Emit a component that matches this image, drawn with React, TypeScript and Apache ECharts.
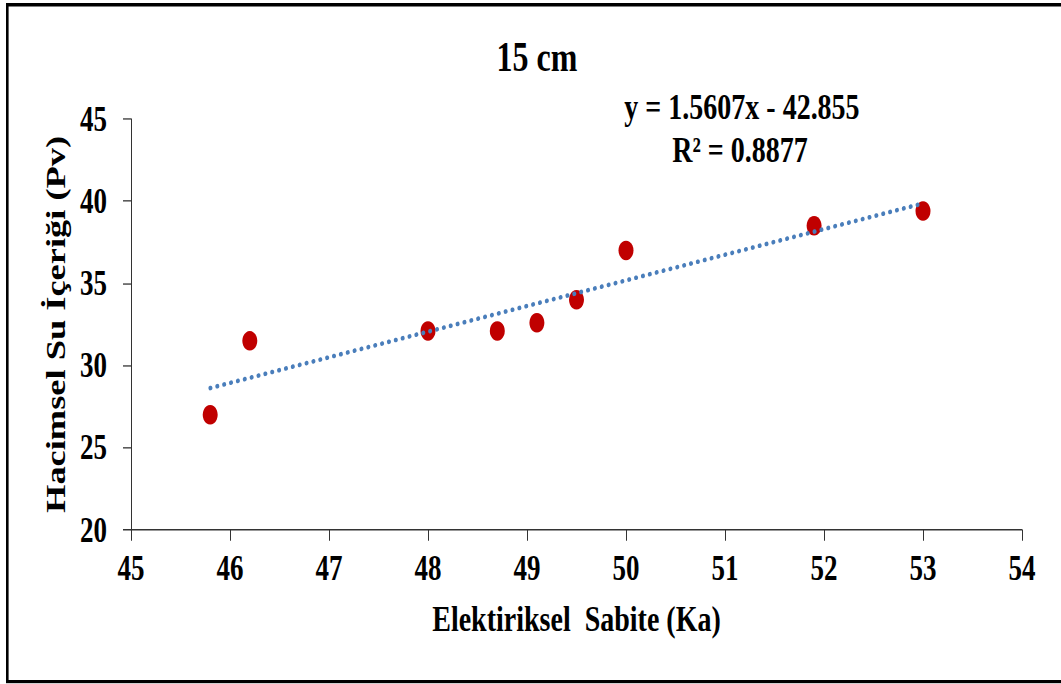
import React, { useEffect, useRef } from "react";
import * as echarts from "echarts";

// Data
const xValues = [45.8, 46.2, 48.0, 48.7, 49.1, 49.5, 50.0, 51.9, 53.0];
const yValues = [27.0, 31.5, 32.1, 32.1, 32.6, 34.0, 37.0, 38.5, 39.4];
const trendSlope = 1.5607;
const trendIntercept = -42.855;
const trendRange = [45.8, 53.0];
const xTicks = { min: 45, max: 54, interval: 1 };
const yTicks = { min: 20, max: 45, interval: 5 };
const titleText = "15 cm";
const equationText = "y = 1.5607x - 42.855";
const r2Text = "R² = 0.8877";
const xName = "Elektiriksel  Sabite (Ka)";
const yName = "Hacimsel Su İçeriği (Pv)";

const W = 1061;
const H = 684;
const S = 1.3; // vertical stretch of the reference picture
const NH = H / S;
const FONT = "'Liberation Serif', 'Times New Roman', serif";

export default function App() {
  const ref = useRef<HTMLDivElement>(null);
  useEffect(() => {
    if (!ref.current) return;
    document.body.style.background = "#ffffff";
    const chart = echarts.init(ref.current, null, { renderer: "svg" });
    const points = xValues.map((x, i) => [x, yValues[i]]);
    const trend = trendRange.map((x) => [x, trendSlope * x + trendIntercept]);
    chart.setOption({
      animation: false,
      backgroundColor: "#ffffff",
      grid: { left: 131, right: W - 1022, top: 119 / S, bottom: NH - 530 / S },
      xAxis: {
        type: "value",
        min: xTicks.min,
        max: xTicks.max,
        interval: xTicks.interval,
        name: xName,
        nameLocation: "middle",
        nameGap: 54,
        nameTextStyle: { fontFamily: FONT, fontWeight: "bold", fontSize: 28, color: "#000" },
        axisLine: { show: true, onZero: false, lineStyle: { color: "#333", width: 1 } },
        axisTick: { show: true, length: 8.5, lineStyle: { color: "#333", width: 1 } },
        axisLabel: { fontFamily: FONT, fontWeight: "bold", fontSize: 27, color: "#000", margin: 16 },
        splitLine: { show: false },
      },
      yAxis: {
        type: "value",
        min: yTicks.min,
        max: yTicks.max,
        interval: yTicks.interval,
        name: yName,
        nameLocation: "middle",
        nameGap: 58,
        nameTextStyle: { fontFamily: FONT, fontWeight: "bold", fontSize: 28, color: "#000" },
        axisLine: { show: true, onZero: false, lineStyle: { color: "#333", width: 1 } },
        axisTick: { show: true, length: 8, lineStyle: { color: "#333", width: 1 } },
        axisLabel: { fontFamily: FONT, fontWeight: "bold", fontSize: 27, color: "#000", margin: 24 },
        splitLine: { show: false },
      },
      series: [
        {
          type: "scatter",
          data: points,
          symbol: "circle",
          symbolSize: 15,
          itemStyle: { color: "#C00000", opacity: 1 },
          z: 2,
        },
        {
          type: "line",
          data: trend,
          symbol: "none",
          lineStyle: { color: "#4a7ebb", width: 3.5, type: [0.5, 6.5], cap: "round" },
          z: 3,
        },
      ],
      graphic: [
        {
          type: "rect",
          shape: { x: 7.3, y: 3.7, width: 1060, height: 520.6 },
          style: { fill: "none", stroke: "#000", lineWidth: 2.6 },
          silent: true,
        },
        {
          type: "text",
          x: 537,
          y: 57 / S,
          style: {
            text: titleText,
            fontFamily: FONT,
            fontWeight: "bold",
            fontSize: 32,
            fill: "#000",
            textAlign: "center",
            textVerticalAlign: "middle",
          },
        },
        {
          type: "text",
          x: 742,
          y: 107 / S,
          style: {
            text: equationText,
            fontFamily: FONT,
            fontWeight: "bold",
            fontSize: 28,
            fill: "#000",
            textAlign: "center",
            textVerticalAlign: "middle",
          },
        },
        {
          type: "text",
          x: 740,
          y: 150 / S,
          style: {
            text: r2Text,
            fontFamily: FONT,
            fontWeight: "bold",
            fontSize: 28,
            fill: "#000",
            textAlign: "center",
            textVerticalAlign: "middle",
          },
        },
      ],
    });
    return () => chart.dispose();
  }, []);
  return (
    <div
      ref={ref}
      style={{
        position: "absolute",
        left: 0,
        top: 0,
        width: W,
        height: NH,
        transform: `scaleY(${S})`,
        transformOrigin: "0 0",
        background: "#fff",
      }}
    />
  );
}
